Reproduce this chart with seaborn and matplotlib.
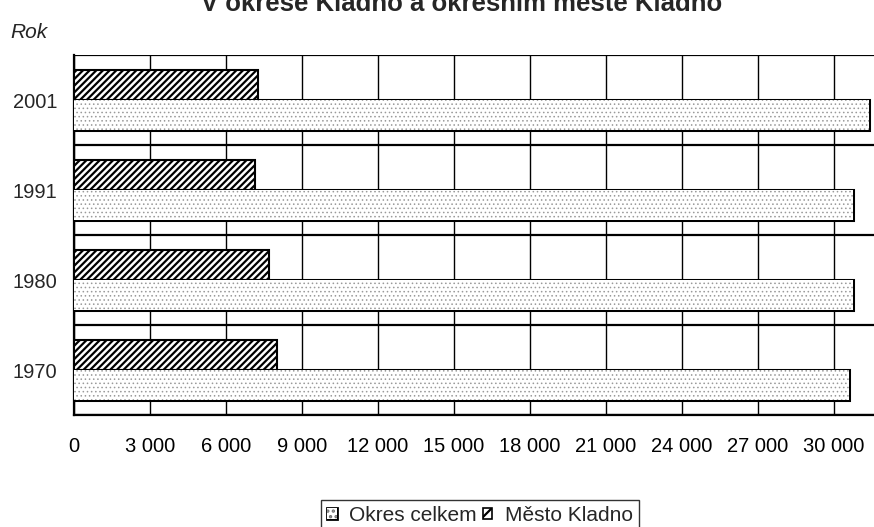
import pandas as pd
import matplotlib.pyplot as plt
import matplotlib.patheffects as pe
from matplotlib.patches import Patch
from matplotlib.ticker import FuncFormatter, MultipleLocator, FixedLocator
import seaborn as sns

# Data
years = ["2001", "1991", "1980", "1970"]
okres_celkem = [31380, 30750, 30750, 30600]
mesto_kladno = [7260, 7150, 7700, 8010]

df = pd.DataFrame({
    "Rok": years * 2,
    "Hodnota": mesto_kladno + okres_celkem,
    "Serie": ["Město Kladno"] * 4 + ["Okres celkem"] * 4,
})

sns.set_style("white")
plt.rcParams["font.family"] = ["Liberation Sans", "DejaVu Sans"]
plt.rcParams["hatch.linewidth"] = 1.6

fig = plt.figure(figsize=(8.74, 5.27), dpi=100)
ax = fig.add_axes([74 / 874, 1 - 415 / 527, 1 - 74 / 874, (415 - 55) / 527])

sns.barplot(data=df, x="Hodnota", y="Rok", hue="Serie", order=years,
            hue_order=["Město Kladno", "Okres celkem"], orient="h",
            width=0.667, palette=["white", "white"], edgecolor="black",
            linewidth=1.5, legend=False, ax=ax)

# dotted bars: grey hatch, black outline via path effect
dot_fx = [pe.Stroke(linewidth=2.2, foreground="black"), pe.Normal()]
for i, bar in enumerate(ax.patches):
    if i < 4:
        bar.set_hatch("/////")
        bar.set_edgecolor("black")
    else:
        bar.set_hatch("....")
        bar.set_edgecolor("#9a9a9a")
        bar.set_linewidth(0)
        if hasattr(bar, "set_hatch_linewidth"):
            bar.set_hatch_linewidth(0.6)
        bar.set_path_effects(dot_fx)
    bar.set_zorder(3)

ax.set_xlim(0, 31580)
ax.set_ylim(3.5, -0.5)
ax.xaxis.set_major_locator(MultipleLocator(3000))
ax.xaxis.set_major_formatter(FuncFormatter(lambda v, p: f"{int(v):,}".replace(",", " ")))
ax.yaxis.set_minor_locator(FixedLocator([-0.5, 0.5, 1.5, 2.5, 3.5]))

ax.grid(axis="x", which="major", color="black", linewidth=1.0)
ax.grid(axis="y", which="minor", color="black", linewidth=1.6)
ax.set_axisbelow(True)

for s in ["top", "right"]:
    ax.spines[s].set_visible(False)
ax.spines["left"].set_linewidth(1.6)
ax.spines["bottom"].set_linewidth(1.6)
ax.spines["left"].set_color("black")
ax.spines["bottom"].set_color("black")

ax.tick_params(axis="x", which="major", direction="out", length=6, width=1.2,
               labelsize=14.5, pad=10, colors="black")
ax.tick_params(axis="y", which="major", length=0, labelsize=14.5, pad=12)
ax.tick_params(axis="y", which="minor", direction="inout", length=10, width=1.6)
ax.set_xlabel("")
ax.set_ylabel("")

fig.text(10 / 874, 1 - 38 / 527, "Rok", fontsize=15, style="italic")
fig.text(462 / 874, 1 - 11 / 527, "V okrese Kladno a okresním městě Kladno",
         fontsize=18.5, fontweight="bold", ha="center", va="baseline")

dot_handle = Patch(facecolor="white", edgecolor="#707070", hatch="...", linewidth=0,
                   path_effects=[pe.Stroke(linewidth=2, foreground="black"), pe.Normal()],
                   label="Okres celkem")
line_handle = Patch(facecolor="white", edgecolor="black", hatch="///", linewidth=1.2,
                    label="Město Kladno")
leg = fig.legend(handles=[dot_handle, line_handle], loc="upper center",
                 bbox_to_anchor=(480 / 874, 1 - 500 / 527),
                 ncol=2, fontsize=15, frameon=True, fancybox=False, handlelength=0.45,
                 handleheight=0.45, handletextpad=0.6, columnspacing=0.3, borderpad=0.3,
                 borderaxespad=0)
leg.get_frame().set_edgecolor("black")
leg.get_frame().set_linewidth(1.0)

fig.savefig("out.png", dpi=100)
